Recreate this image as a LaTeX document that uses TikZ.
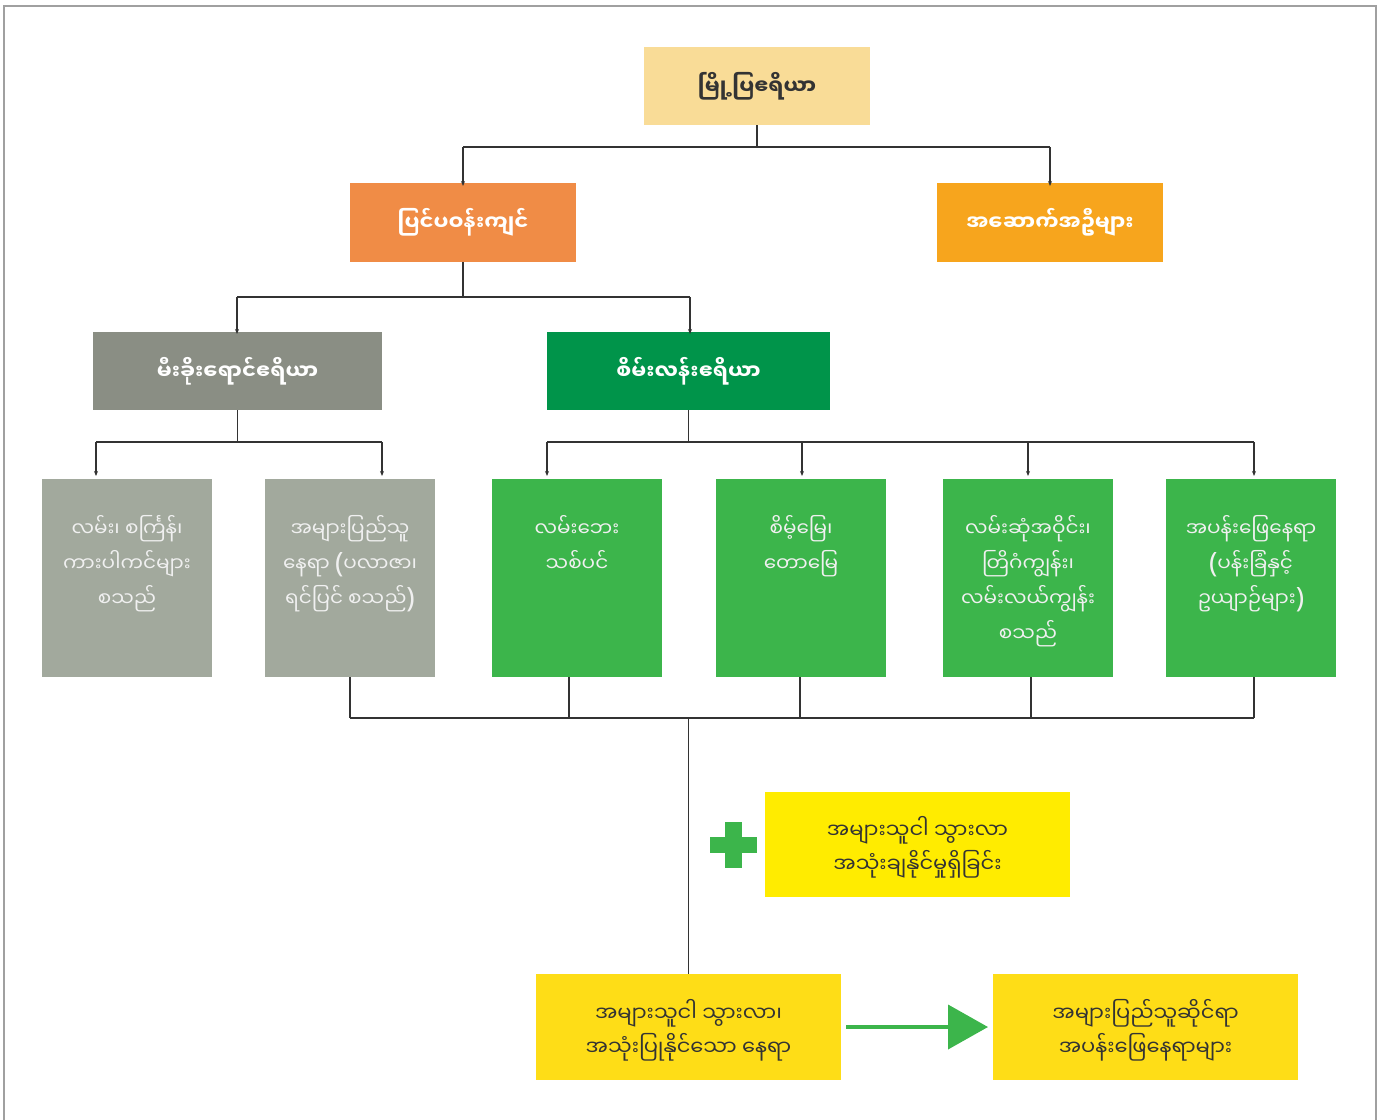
\documentclass[tikz,border=0pt]{standalone}
\usepackage{fontspec}
\newfontfamily\mm[Script=Myanmar]{Noto Sans Myanmar UI}
\newfontfamily\parfont{Noto Sans}
\newcommand{\lp}{{\parfont\fontsize{28}{35}\selectfont\raisebox{-1pt}{(}}}
\newcommand{\rp}{{\parfont\fontsize{28}{35}\selectfont\raisebox{-1pt}{)}}}
\usetikzlibrary{arrows.meta}
\definecolor{cTitle}{HTML}{F9DC97}
\definecolor{cOrange}{HTML}{F08C46}
\definecolor{cAmber}{HTML}{F7A51D}
\definecolor{cGrayHead}{HTML}{8A8E84}
\definecolor{cGreenHead}{HTML}{00944A}
\definecolor{cGrayBox}{HTML}{A2A99D}
\definecolor{cGreenBox}{HTML}{3CB54B}
\definecolor{cYellowA}{HTML}{FFEC00}
\definecolor{cYellowB}{HTML}{FEDD17}
\definecolor{cLine}{HTML}{333333}
\definecolor{cFrame}{HTML}{A0A0A0}
\definecolor{cDark}{HTML}{333333}
\begin{document}
\begin{tikzpicture}[x=1pt,y=-1pt,
  box/.style={inner sep=0pt, outer sep=0pt, anchor=center},
  headtxt/.style={font=\mm\fontsize{21}{30}\selectfont\bfseries, text=white},
  bodytxt/.style={font=\mm\fontsize{20}{35}\selectfont, text=white!94!black, align=center, anchor=north, inner sep=0pt},
  darktxt/.style={font=\mm\fontsize{21}{34}\selectfont, text=cDark, align=center},
  conn/.style={draw=cLine, line width=1.1pt},
  arr/.style={conn, -{Stealth[length=5pt,width=4pt]}}
]
\useasboundingbox (0,0) rectangle (1384,1119);
\draw[cFrame, line width=1.6pt] (4,1125) -- (4,6) -- (1376,6) -- (1376,1125);

% level 0
\node[box, fill=cTitle, minimum width=226pt, minimum height=78pt, font=\mm\fontsize{21}{30}\selectfont\bfseries, text=cDark] (top) at (757,86) {မြို့ပြဧရိယာ};
% level 1
\node[box, fill=cOrange, minimum width=226pt, minimum height=79pt, headtxt] (outd) at (463,222.5) {ပြင်ပဝန်းကျင်};
\node[box, fill=cAmber, minimum width=226pt, minimum height=79pt, headtxt] (bldg) at (1050,222.5) {အဆောက်အဦများ};
% level 2
\node[box, fill=cGrayHead, minimum width=289pt, minimum height=78pt, headtxt] (gray) at (237.5,371) {မီးခိုးရောင်ဧရိယာ};
\node[box, fill=cGreenHead, minimum width=283pt, minimum height=78pt, headtxt] (green) at (688.5,371) {စိမ်းလန်းဧရိယာ};
% level 3 boxes
\foreach \n/\cx/\c in {ga/127/cGrayBox, gb/350/cGrayBox, ea/577/cGreenBox, eb/801/cGreenBox, ec/1028/cGreenBox, ed/1251/cGreenBox}{
  \node[box, fill=\c, minimum width=170pt, minimum height=198pt] (\n) at (\cx,578) {};
}
\node[bodytxt] (gat) at ([yshift=-36pt]ga.north) {လမ်း၊ စင်္ကြန်၊\\ကားပါကင်များ\\စသည်};
\node[bodytxt] (gbt) at ([yshift=-36pt]gb.north) {အများပြည်သူ\\နေရာ \lp ပလာဇာ၊\\ရင်ပြင် စသည်\rp};
\node[bodytxt] (eat) at ([yshift=-36pt]ea.north) {လမ်းဘေး\\သစ်ပင်};
\node[bodytxt] (ebt) at ([yshift=-36pt]eb.north) {စိမ့်မြေ၊\\တောမြေ};
\node[bodytxt] (ect) at ([yshift=-36pt]ec.north) {လမ်းဆုံအဝိုင်း၊\\တြိဂံကျွန်း၊\\လမ်းလယ်ကျွန်း\\စသည်};
\node[bodytxt] (edt) at ([yshift=-36pt]ed.north) {အပန်းဖြေနေရာ\\\lp ပန်းခြံနှင့်\\ဥယျာဉ်များ\rp};

% lower boxes
\node[box, fill=cYellowA, minimum width=305pt, minimum height=105pt] (access) at (917.5,844.5) {};
\node[darktxt] (accesst) at ([yshift=-3pt]access.center) {အများသူငါ သွားလာ\\အသုံးချနိုင်မှုရှိခြင်း};
\node[box, fill=cYellowB, minimum width=305pt, minimum height=106pt] (pub) at (688.5,1027) {};
\node[darktxt] (pubt) at ([yshift=-3pt]pub.center) {အများသူငါ သွားလာ၊\\အသုံးပြုနိုင်သော နေရာ};
\node[box, fill=cYellowB, minimum width=305pt, minimum height=106pt] (rec) at (1145.5,1027) {};
\node[darktxt] (rect) at ([yshift=-3pt]rec.center) {အများပြည်သူဆိုင်ရာ\\အပန်းဖြေနေရာများ};

% plus sign
\fill[cGreenBox] (725,822) rectangle (742,868);
\fill[cGreenBox] (710,837) rectangle (757,853);

% connectors level 0 -> 1
\draw[conn] (top.south) -- (757,147);
\draw[conn] (463,147) -- (1050,147);
\draw[arr] (463,147) -- ([yshift=-3pt]outd.north);
\draw[arr] (1050,147) -- ([yshift=-3pt]bldg.north);
% level 1 -> 2
\draw[conn] (outd.south) -- (463,297);
\draw[conn] (237,297) -- (690,297);
\draw[arr] (237,297) -- ([yshift=-2pt]gray.north -| 237,0);
\draw[arr] (690,297) -- ([yshift=-2pt]green.north -| 690,0);
% level 2 -> 3
\draw[conn] (gray.south) -- (237.5,442);
\draw[conn] (96,442) -- (382,442);
\draw[arr] (96,442) -- (96,476);
\draw[arr] (382,442) -- (382,476);
\draw[conn] (green.south) -- (688.5,442);
\draw[conn] (547,442) -- (1254,442);
\foreach \x in {547,802,1028,1254}{ \draw[arr] (\x,442) -- (\x,476); }
% level 3 -> pub
\draw[conn] (gb.south) -- (350,718);
\draw[conn] (ea.south -| 569,0) -- (569,718);
\draw[conn] (eb.south -| 800,0) -- (800,718);
\draw[conn] (ec.south -| 1031,0) -- (1031,718);
\draw[conn] (ed.south -| 1254,0) -- (1254,718);
\draw[conn] (350,718) -- (1254,718);
\draw[conn] (688.5,718) -- (pub.north);
% green arrow
\draw[draw=cGreenBox, line width=4pt, -{Triangle[length=40pt,width=44pt]}, shorten <=5pt, shorten >=5pt] (pub.east) -- (rec.west);
\end{tikzpicture}
\end{document}
